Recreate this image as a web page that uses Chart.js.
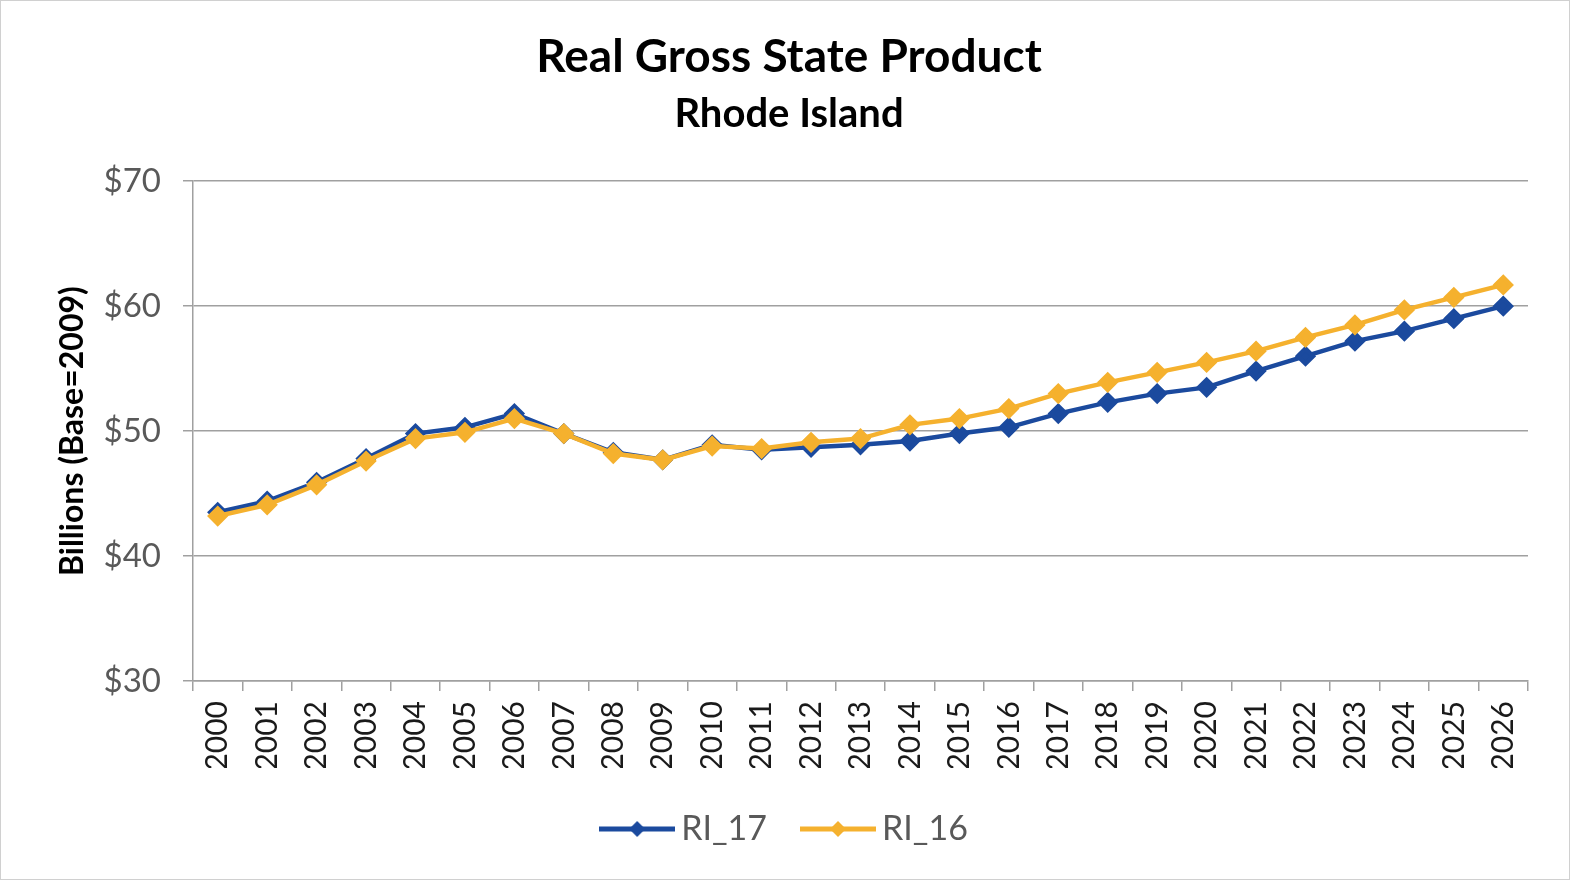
<!DOCTYPE html>
<html>
<head>
<meta charset="utf-8">
<script src="https://cdn.jsdelivr.net/npm/chart.js@4.4.1/dist/chart.umd.min.js"></script>
<style>
html,body{margin:0;padding:0;background:#fff;}
#wrap{position:relative;width:1570px;height:880px;}
#frame{position:absolute;left:0;top:0;width:1570px;height:880px;box-sizing:border-box;border:1px solid #d0d0d0;pointer-events:none;}
canvas{position:absolute;left:0;top:0;}
</style>
</head>
<body>
<div id="wrap"><canvas id="c" width="1570" height="880"></canvas><div id="frame"></div></div>
<script>
const years = ["2000","2001","2002","2003","2004","2005","2006","2007","2008","2009","2010","2011","2012","2013","2014","2015","2016","2017","2018","2019","2020","2021","2022","2023","2024","2025","2026"];
const ri17 = [43.5,44.4,45.9,47.8,49.8,50.3,51.4,49.8,48.3,47.7,48.9,48.5,48.7,48.9,49.2,49.8,50.3,51.4,52.3,53.0,53.5,54.8,56.0,57.2,58.0,59.0,60.0];
const ri16 = [43.2,44.1,45.7,47.6,49.4,49.9,51.0,49.8,48.2,47.7,48.8,48.6,49.1,49.4,50.5,51.0,51.8,53.0,53.9,54.7,55.5,56.4,57.5,58.5,59.7,60.7,61.7];
const yTicks = [30,40,50,60,70];

const BLUE = '#1b4a9e';
const ORANGE = '#f5b12e';
const FONT = 'Lato, "Open Sans", sans-serif';

function legendIcon(color){
  const c = document.createElement('canvas');
  c.width = 76; c.height = 18;
  const g = c.getContext('2d');
  g.strokeStyle = color; g.lineWidth = 5;
  g.beginPath(); g.moveTo(0,9); g.lineTo(76,9); g.stroke();
  g.fillStyle = color;
  g.beginPath(); g.moveTo(38,1); g.lineTo(46,9); g.lineTo(38,17); g.lineTo(30,9); g.closePath(); g.fill();
  return c;
}

new Chart(document.getElementById('c'), {
  type: 'line',
  data: {
    labels: years,
    datasets: [
      { label: 'RI_17', data: ri17, borderColor: BLUE, backgroundColor: BLUE, borderWidth: 4.5,
        pointStyle: 'rectRot', pointRadius: 7.5, pointHoverRadius: 7.5, order: 1, tension: 0 },
      { label: 'RI_16', data: ri16, borderColor: ORANGE, backgroundColor: ORANGE, borderWidth: 4.5,
        pointStyle: 'rectRot', pointRadius: 7.5, pointHoverRadius: 7.5, order: 0, tension: 0 }
    ]
  },
  options: {
    responsive: false,
    animation: false,
    events: [],
    layout: { padding: { top: 30, left: 50, right: 42, bottom: 24 } },
    plugins: {
      title: { display: true, text: 'Real Gross State Product', color: '#000',
        font: { family: FONT, size: 46, weight: 'bold' }, padding: { top: 0, bottom: 2 } },
      subtitle: { display: true, text: 'Rhode Island', color: '#000',
        font: { family: FONT, size: 40, weight: 'bold' }, padding: { top: 3, bottom: 43 } },
      legend: {
        position: 'bottom',
        sort: (a, b) => a.datasetIndex - b.datasetIndex,
        labels: {
          usePointStyle: true,
          pointStyleWidth: 54,
          generateLabels: (chart) => chart.data.datasets.map((ds, i) => ({
            text: ds.label, datasetIndex: i, pointStyle: legendIcon(ds.borderColor),
            fillStyle: ds.borderColor, strokeStyle: ds.borderColor, lineWidth: 0, fontColor: '#595959'
          })),
          color: '#595959',
          font: { family: FONT, size: 34 },
          padding: 44
        }
      },
      tooltip: { enabled: false }
    },
    scales: {
      x: {
        offset: true,
        grid: { offset: true, drawOnChartArea: false, drawTicks: true, tickLength: 10, color: '#a0a0a0', lineWidth: 1.5 },
        border: { color: '#a0a0a0', width: 1.5 },
        ticks: { minRotation: 90, maxRotation: 90, autoSkip: false, color: '#1a1a1a', padding: 10,
          font: { family: FONT, size: 30 } },
        afterFit: (s) => { s.height = 87; }
      },
      y: {
        min: 30, max: 70,
        afterBuildTicks: (s) => { s.ticks = yTicks.map(v => ({ value: v })); },
        grid: { color: '#a0a0a0', lineWidth: 1.5, tickLength: 10 },
        border: { color: '#a0a0a0', width: 1.5 },
        ticks: { color: '#595959', padding: 22, font: { family: FONT, size: 33 },
          callback: (v) => '$' + v },
        title: { display: true, text: 'Billions (Base=2009)', color: '#000', padding: { top: 3, bottom: 6 },
          font: { family: FONT, size: 32, weight: 'bold' } },
        afterFit: (s) => { s.width = 143; }
      }
    }
  }
});
</script>
</body>
</html>
